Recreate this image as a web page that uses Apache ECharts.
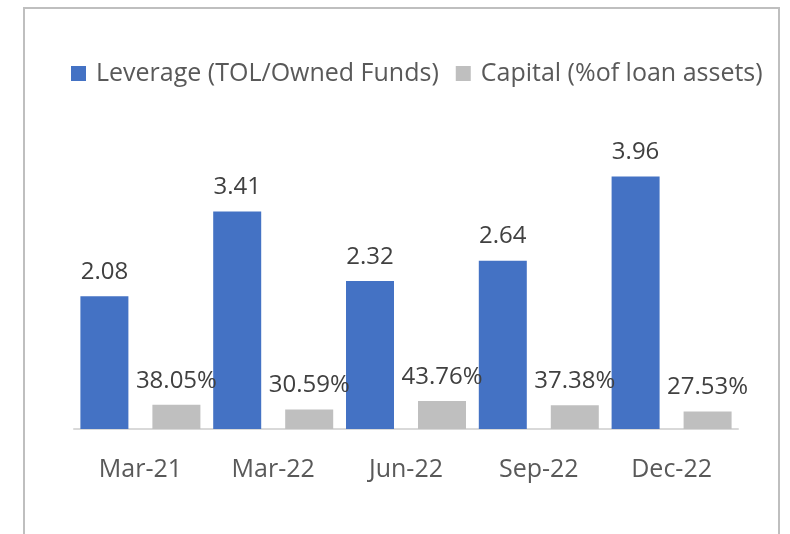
<!DOCTYPE html>
<html>
<head>
<meta charset="utf-8">
<script src="https://cdn.jsdelivr.net/npm/echarts@6/dist/echarts.min.js"></script>
<style>
  html, body { margin: 0; padding: 0; background: #fff; }
  #chart { width: 790px; height: 534px; }
</style>
</head>
<body>
<div id="chart"></div>
<script>
var categories = ['Mar-21', 'Mar-22', 'Jun-22', 'Sep-22', 'Dec-22'];
var leverage = [2.08, 3.41, 2.32, 2.64, 3.96];
// capital in percent, plotted as fraction on the same axis
var capitalPct = [38.05, 30.59, 43.76, 37.38, 27.53];

var fontFamily = '"Open Sans", "Noto Sans", sans-serif';

var chart = echarts.init(document.getElementById('chart'));

var option = {
    animation: false,
    backgroundColor: '#fff',
    graphic: [{
        type: 'rect',
        shape: { x: 24, y: 8, width: 755, height: 560 },
        style: { fill: 'none', stroke: '#bfbfbf', lineWidth: 2 },
        silent: true
    }],
    legend: {
        left: 71,
        top: 61,
        padding: 0,
        itemWidth: 15,
        itemHeight: 15,
        itemGap: 17,
        icon: 'rect',
        textStyle: { fontFamily: fontFamily, fontSize: 25, color: '#595959', padding: [0, 0, 0, 5] },
        data: ['Leverage (TOL/Owned Funds)', 'Capital (%of loan assets)']
    },
    grid: { left: 74, right: 52, top: 142, bottom: 105 },
    xAxis: {
        type: 'category',
        data: categories,
        axisLine: { lineStyle: { color: '#d9d9d9', width: 2 } },
        axisTick: { show: false },
        axisLabel: { fontFamily: fontFamily, fontSize: 25, color: '#595959', margin: 28 }
    },
    yAxis: {
        type: 'value',
        min: 0,
        max: 4.5,
        show: false,
        splitLine: { show: false }
    },
    series: [{
        name: 'Leverage (TOL/Owned Funds)',
        type: 'bar',
        data: leverage,
        barWidth: 48,
        barGap: '50%',
        itemStyle: { color: '#4472c4' },
        label: {
            show: true,
            position: 'top',
            distance: 12,
            fontFamily: fontFamily,
            fontSize: 24,
            color: '#404040',
            formatter: function (p) { return p.value.toFixed(2); }
        }
    }, {
        name: 'Capital (%of loan assets)',
        type: 'bar',
        data: capitalPct.map(function (v) { return v / 100; }),
        barWidth: 48,
        barGap: '50%',
        itemStyle: { color: '#bfbfbf' },
        label: {
            show: true,
            position: 'top',
            distance: 12,
            fontFamily: fontFamily,
            fontSize: 24,
            color: '#404040',
            formatter: function (p) { return (p.value * 100).toFixed(2) + '%'; }
        }
    }]
};

chart.setOption(option);
</script>
</body>
</html>
